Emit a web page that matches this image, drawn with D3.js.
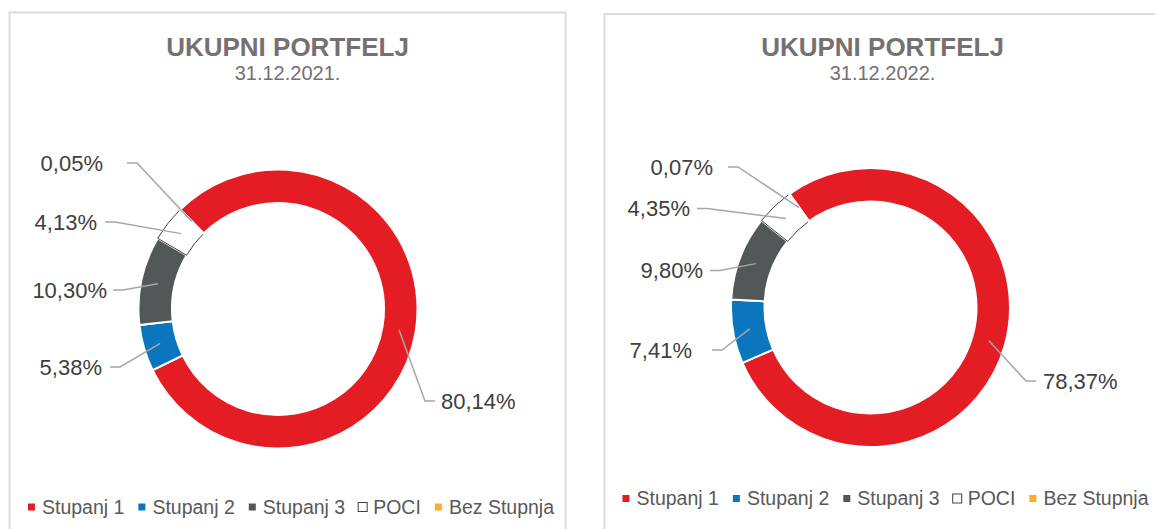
<!DOCTYPE html>
<html>
<head>
<meta charset="utf-8">
<script src="https://cdn.jsdelivr.net/npm/d3@7"></script>
<style>
  html, body { margin: 0; padding: 0; background: #fff; }
  svg { display: block; font-family: "Liberation Sans", Arial, sans-serif; }
</style>
</head>
<body>
<div id="chart"></div>
<script>
// podaci
const categories = ['Stupanj 1', 'Stupanj 2', 'Stupanj 3', 'POCI', 'Bez Stupnja'];
const colors = ['#e31d23', '#0b76be', '#525858', '#ffffff', '#f9ae2e'];
const chartTitle = 'UKUPNI PORTFELJ';
const dates = ['31.12.2021.', '31.12.2022.'];
const values2021 = [80.14, 5.38, 10.30, 4.13, 0.05];
const values2022 = [78.37, 7.41, 9.80, 4.35, 0.07];

const W = 1155, H = 529;

// raspored panela (pozicije, ne podaci)
const panels = [
  {
    values: values2021, date: dates[0],
    x: 9.5, y: 12.5, w: 556,
    cx: 278, cy: 309, start: -44.5,
    legendCx: 291, legendY: 507,
    labels: [
      { x: 441, y: 401, gap: 6 },
      { x: 102, y: 367, gap: 8 },
      { x: 107, y: 290, gap: 6 },
      { x: 97, y: 222, gap: 8 },
      { x: 103, y: 163, gap: 24 }
    ]
  },
  {
    values: values2022, date: dates[1],
    x: 604.5, y: 14, w: 556,
    cx: 870.5, cy: 307.5, start: -35.5,
    legendCx: 885.5, legendY: 498.5,
    labels: [
      { x: 1043, y: 381, gap: 7 },
      { x: 692, y: 350, gap: 20 },
      { x: 703, y: 270.5, gap: 7 },
      { x: 690, y: 208.5, gap: 7 },
      { x: 713, y: 167, gap: 15 }
    ]
  }
];

const pct = d3.formatLocale({ decimal: ',', thousands: '.', grouping: [3], currency: ['', ''] }).format('.2f');

const svg = d3.select('#chart').append('svg')
  .attr('width', W)
  .attr('height', H);

svg.append('rect').attr('width', W).attr('height', H).attr('fill', '#fff');

const outerR = 139.5, innerR = 106;
const arc = d3.arc().innerRadius(innerR).outerRadius(outerR);

panels.forEach((p, pi) => {
  const g = svg.append('g');

  // okvir
  g.append('rect')
    .attr('x', p.x).attr('y', p.y)
    .attr('width', p.w).attr('height', H + 20)
    .attr('fill', 'none')
    .attr('stroke', '#dcdcdc')
    .attr('stroke-width', 2);

  const midX = p.x + p.w / 2;
  g.append('text')
    .attr('x', midX).attr('y', 56)
    .attr('text-anchor', 'middle')
    .attr('font-size', 26).attr('font-weight', 'bold')
    .attr('fill', '#767171')
    .text(chartTitle);
  g.append('text')
    .attr('x', midX).attr('y', 80)
    .attr('text-anchor', 'middle')
    .attr('font-size', 20)
    .attr('fill', '#767171')
    .text(p.date);

  const a0 = p.start * Math.PI / 180;
  const pie = d3.pie().sort(null).value(d => d)
    .startAngle(a0).endAngle(a0 + 2 * Math.PI);
  const arcs = pie(p.values);

  const donut = g.append('g').attr('transform', `translate(${p.cx},${p.cy})`);
  donut.selectAll('path.slice')
    .data(arcs)
    .join('path')
    .attr('class', 'slice')
    .attr('d', arc)
    .attr('fill', (d, i) => colors[i])
    .attr('stroke', (d, i) => categories[i] === 'POCI' ? '#404040' : '#fff')
    .attr('stroke-width', (d, i) => categories[i] === 'POCI' ? 1 : 2)
    .attr('stroke-linejoin', 'miter');
  // mali odsječak iznad POCI obruba
  donut.selectAll('path.slice').filter((d, i) => i === arcs.length - 1).raise();

  // oznake s linijama
  arcs.forEach((d, i) => {
    const lp = p.labels[i];
    const c = arc.centroid(d);
    const cx = p.cx + c[0], cy = p.cy + c[1];
    const right = lp.x > p.cx;
    const s = right ? -1 : 1;
    const x1 = lp.x + s * lp.gap, x2 = lp.x + s * (lp.gap + 10);
    g.append('polyline')
      .attr('points', [[x1, lp.y], [x2, lp.y], [cx, cy]].map(q => q.join(',')).join(' '))
      .attr('fill', 'none')
      .attr('stroke', '#a6a6a6')
      .attr('stroke-width', 1.5);
    g.append('text')
      .attr('x', lp.x).attr('y', lp.y)
      .attr('dy', '0.35em')
      .attr('text-anchor', right ? 'start' : 'end')
      .attr('font-size', 22)
      .attr('fill', '#404040')
      .text(pct(p.values[i]) + '%');
  });

  // legenda
  const lg = g.append('g');
  const items = categories.map((name, i) => {
    const t = lg.append('text')
      .attr('y', p.legendY).attr('dy', '0.35em')
      .attr('font-size', 19.5)
      .attr('fill', '#595959')
      .text(name);
    return { name, i, t, w: t.node().getComputedTextLength() };
  });
  const total = items.reduce((s, it) => s + 10.5 + it.w, 0) + 17.5 * (items.length - 1) + 3.5;
  let mc = p.legendCx - total / 2 + 3.5;
  items.forEach(it => {
    const isPoci = it.name === 'POCI';
    const sz = isPoci ? 9 : 7;
    lg.append('rect')
      .attr('x', mc - sz / 2).attr('y', p.legendY - sz / 2)
      .attr('width', sz).attr('height', sz)
      .attr('fill', colors[it.i])
      .attr('stroke', isPoci ? '#404040' : 'none')
      .attr('stroke-width', 1);
    it.t.attr('x', mc + 10.5);
    mc = mc + 10.5 + it.w + 17.5;
  });
});
</script>
</body>
</html>
